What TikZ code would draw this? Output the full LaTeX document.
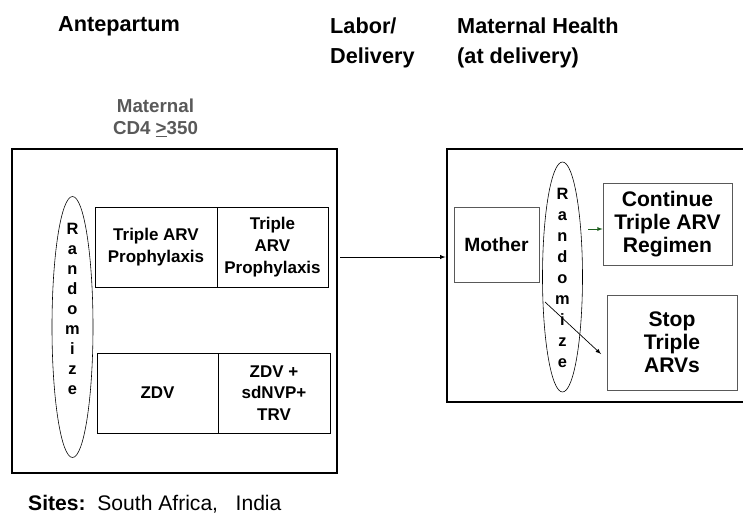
\documentclass[tikz,border=0pt]{standalone}
\usepackage{fontspec}
\setmainfont{Liberation Sans}
\usetikzlibrary{shapes.geometric}
\definecolor{labelgray}{RGB}{89,89,89}
\definecolor{arrowgreen}{RGB}{30,95,30}

\begin{document}
\begin{tikzpicture}[x=0.03cm,y=-0.03cm,
  title/.style={font=\fontsize{18.5}{25.6}\bfseries\selectfont,align=left,anchor=west,inner sep=0pt},
  frame/.style={draw,line width=2.4pt,inner sep=0pt},
  armbox/.style={draw,line width=0.6pt,align=center,inner sep=0pt,
    font=\fontsize{14.5}{18.5}\bfseries\selectfont},
  outbox/.style={armbox,draw=labelgray,font=\fontsize{18}{19.5}\bfseries\selectfont},
  randell/.style={draw,ellipse,line width=0.5pt,inner sep=0pt},
  randtxt/.style={align=center,inner sep=0pt},
  flow/.style={->,>=latex,line width=0.6pt}]
  \useasboundingbox (0,0) rectangle (743,525);
  \clip (0,0) rectangle (743,525);

  \node[title] (ante) at (58,26.4) {Antepartum};
  \node[title] (labor) at (330,42.4) {Labor/\\Delivery};
  \node[title] (health) at (457,42.4) {Maternal Health\\(at delivery)};
  \node[align=center,inner sep=0pt,text=labelgray,
    font=\fontsize{16}{18.8}\bfseries\selectfont] (cd4) at (155.5,118)
    {Maternal\\CD4 \underline{>}350};

  \node[frame,minimum width=9.75cm,minimum height=9.72cm] (antebox) at (174.5,311) {};
  \node[randell,minimum width=1.23cm,minimum height=7.83cm] (rand1) at (72.5,327) {};
  \node[randtxt,font=\fontsize{14}{17}\bfseries\selectfont] at (72.5,309)
    {R\\a\\n\\d\\o\\m\\i\\z\\e};
  \node[armbox,minimum width=3.66cm,minimum height=2.4cm] (trip1) at (156,247)
    {Triple ARV\\Prophylaxis};
  \node[armbox,minimum width=3.33cm,minimum height=2.4cm] (trip2) at (272.5,247)
    {Triple\\ARV\\Prophylaxis};
  \node[armbox,minimum width=3.63cm,minimum height=2.4cm] (zdv) at (157.5,393) {ZDV};
  \node[armbox,minimum width=3.36cm,minimum height=2.4cm] (zdvplus) at (274,393)
    {ZDV +\\sdNVP+\\TRV};

  \node[frame,minimum width=9.39cm,minimum height=7.59cm] (matbox) at (603.5,275.5) {};
  \node[outbox,minimum width=2.55cm,minimum height=2.25cm,
    font=\fontsize{16.4}{20}\bfseries\selectfont] (mother)
    at (496.5,244.5) {Mother};
  \node[randell,minimum width=1.2cm,minimum height=6.9cm] (rand2) at (562.5,277) {};
  \node[randtxt,font=\fontsize{14}{18}\bfseries\selectfont] at (562.5,278)
    {R\\a\\n\\d\\o\\m\\i\\z\\e};
  \node[outbox,minimum width=3.87cm,minimum height=2.46cm] (cont)
    at (667.5,224) {Continue\\Triple ARV\\Regimen};
  \node[outbox,minimum width=3.9cm,minimum height=2.85cm] (stop)
    at (672,342.5) {Stop\\Triple\\ARVs};

  \coordinate (ldstart) at (340,257);
  \draw[flow] (ldstart) -- (matbox.west |- ldstart);
  \coordinate (contstart) at (588,229);
  \draw[flow,arrowgreen] (contstart) -- (cont.west |- contstart);
  \coordinate (stopstart) at (545,302);
  \coordinate (stopend) at (601,354);
  \draw[flow] (stopstart) -- (stopend);

  \node[anchor=base west,inner sep=0pt,font=\fontsize{18}{21}\selectfont] (sites) at (28,510)
    {\textbf{Sites:}\ \ South Africa,\ \ \ India};
\end{tikzpicture}
\end{document}
